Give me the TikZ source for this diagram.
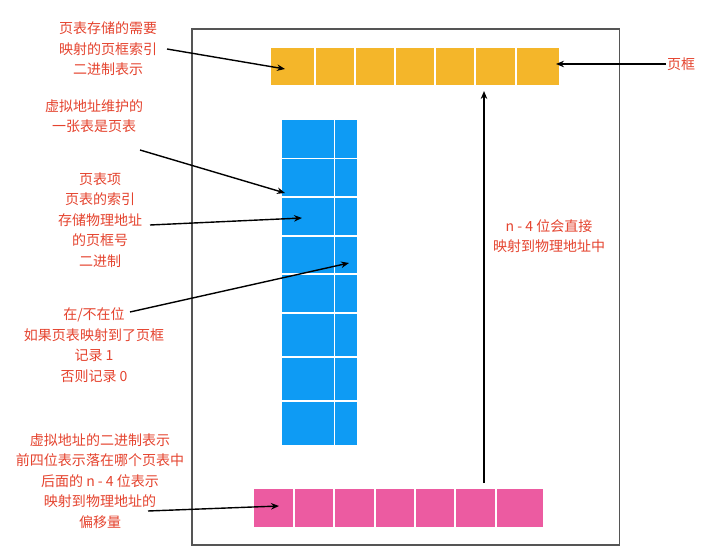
\documentclass[tikz,border=0pt]{standalone}
\usepackage{fontspec}
\setmainfont{Noto Sans CJK SC}
\usetikzlibrary{arrows.meta}
\definecolor{goldc}{HTML}{F4B62A}
\definecolor{bluec}{HTML}{0E9BF4}
\definecolor{pinkc}{HTML}{EC5BA1}
\definecolor{redtxt}{HTML}{E5432E}
\definecolor{framec}{HTML}{555555}
\tikzset{
  cell/.style={draw=white, line width=1.3bp, inner sep=0pt, outer sep=0pt},
  lbl/.style={text=redtxt, align=center, inner sep=0pt, font=\fontsize{14bp}{20.5bp}\selectfont},
  arr/.style={-{Stealth[length=8bp,width=6.5bp]}, line width=1.4bp, black}
}
\begin{document}
\begin{tikzpicture}[x=1bp,y=-1bp]
\useasboundingbox (0,0) rectangle (726,555);
\fill[white] (0,0) rectangle (726,555);
% frame
\node[draw=framec, line width=1.2bp, inner sep=0pt, outer sep=0pt, minimum width=427.5bp, minimum height=516bp] (frame) at (405.75,287) {};
% gold bar
\foreach \a/\b [count=\i] in {270/315,315/355,355/395,395/435,435/475,475/516,516/560}
  \node[cell, fill=goldc, minimum width={(\b-\a)*1bp}, minimum height=39bp] (g\i) at ({(\a+\b)/2},66.5) {};
% pink bar
\foreach \a/\b [count=\i] in {253/294,294/334,334/375,375/415,415/455,455/496,496/544}
  \node[cell, fill=pinkc, minimum width={(\b-\a)*1bp}, minimum height=39bp] (p\i) at ({(\a+\b)/2},507.8) {};
% blue table
\foreach \t/\u [count=\r] in {119/158.5,158.5/197,197/236,236/274,274/313,313/357,357/401,401/446}{
  \node[cell, fill=bluec, minimum width=53.3bp, minimum height={(\u-\t)*1bp}] (b\r a) at (307.65,{(\t+\u)/2}) {};
  \node[cell, fill=bluec, minimum width=23.7bp, minimum height={(\u-\t)*1bp}] (b\r b) at (346.15,{(\t+\u)/2}) {};
}
% labels
\node[lbl] (t1) at (108,49) {页表存储的需要\\映射的页框索引\\二进制表示};
\node[lbl] (t2) at (94,116) {虚拟地址维护的\\一张表是页表};
\node[lbl] (t3) at (100,220) {页表项\\页表的索引\\存储物理地址\\的页框号\\二进制};
\node[lbl] (t4) at (94,345) {在/不在位\\如果页表映射到了页框\\记录 1\\否则记录 0};
\node[lbl] (t5) at (100,481) {虚拟地址的二进制表示\\前四位表示落在哪个页表中\\后面的 n - 4 位表示\\映射到物理地址的\\偏移量};
\node[lbl] (t6) at (681,64) {页框};
\node[lbl] (t7) at (549,236) {n - 4 位会直接\\映射到物理地址中};
% arrow endpoints
\coordinate (s1) at (167,49);  \coordinate (e1) at (285,69);
\coordinate (s2) at (140,150); \coordinate (e2) at (285,193);
\coordinate (s3) at (150,225); \coordinate (e3) at (302,218);
\coordinate (s4) at (130,312); \coordinate (e4) at (349,263);
\coordinate (s5) at (148,511); \coordinate (e5) at (279,506);
\coordinate (s6) at (666,64);  \coordinate (e6) at (556,64);
\coordinate (s7) at (484,483); \coordinate (e7) at (484,91);
\foreach \k in {1,...,7} \draw[arr] (s\k) -- (e\k);
\end{tikzpicture}
\end{document}
